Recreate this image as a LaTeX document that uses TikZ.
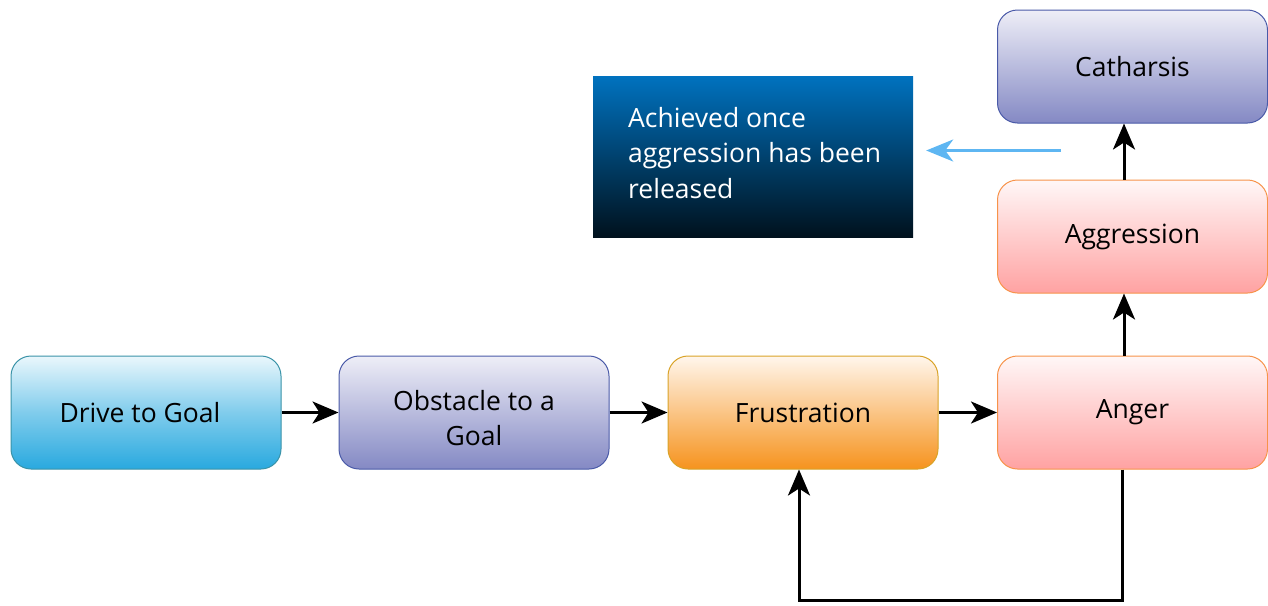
\documentclass[tikz,border=0pt]{standalone}
\usepackage{fontspec}
\setmainfont{Open Sans}
\usetikzlibrary{arrows.meta,positioning}

\definecolor{cyanTop}{HTML}{EAF7FC}
\definecolor{cyanBot}{HTML}{29A9DF}
\definecolor{cyanEdge}{HTML}{3A93A8}
\definecolor{lilacTop}{HTML}{EEEEF7}
\definecolor{lilacBot}{HTML}{8489C4}
\definecolor{lilacEdge}{HTML}{4A5AA8}
\definecolor{amberTop}{HTML}{FFF6EC}
\definecolor{amberBot}{HTML}{F6931E}
\definecolor{amberEdge}{HTML}{D9A328}
\definecolor{roseTop}{HTML}{FFF7F7}
\definecolor{roseBot}{HTML}{FFA2A2}
\definecolor{roseEdge}{HTML}{F7934A}
\definecolor{navyTop}{HTML}{0072BF}
\definecolor{navyBot}{HTML}{00111D}
\definecolor{hintBlue}{HTML}{5EB6F2}

\tikzset{
  x=1pt, y=-1pt,
  stage/.style={draw, line width=1pt, rounded corners=20pt,
    minimum width=270pt, minimum height=113pt, align=center,
    font=\fontsize{26.5}{35}\selectfont, text=black},
  drivebox/.style={stage, draw=cyanEdge, top color=cyanTop, bottom color=cyanBot, middle color=cyanBot!55!cyanTop},
  lilacbox/.style={stage, draw=lilacEdge, top color=lilacTop, bottom color=lilacBot},
  amberbox/.style={stage, draw=amberEdge, top color=amberTop, bottom color=amberBot},
  rosebox/.style={stage, draw=roseEdge, top color=roseTop, bottom color=roseBot},
  notebox/.style={draw=none, top color=navyTop, bottom color=navyBot,
    minimum width=320pt, minimum height=161pt},
  notetext/.style={inner sep=0pt, align=left, text=white,
    font=\fontsize{26.5}{35.5}\selectfont},
  flow/.style={line width=3pt, -{Stealth[length=26pt, width=22pt, inset=7pt]}},
  hint/.style={line width=2.5pt, color=hintBlue, -{Stealth[length=27pt, width=22pt, inset=8pt]}}
}

\begin{document}
\begin{tikzpicture}
\useasboundingbox (0,0) rectangle (1268,605);

% stage boxes
\node[drivebox] (drive) at (146,412.5) {\hspace*{-12pt}Drive to Goal};
\node[lilacbox] (obstacle) at (474,412.5) {\rule{0pt}{31pt}Obstacle to a\\Goal};
\node[amberbox] (frus) at (803,412.5) {Frustration};
\node[rosebox] (anger) at (1132.5,412.5) {Anger};
\node[rosebox] (aggr) at (1132.5,236.5) {Aggression};
\node[lilacbox] (cath) at (1132.5,66.5) {Catharsis};

% explanatory note: shaded panel with its text
\node[notebox] (note) at (753,156.5) {};
\node[notetext, anchor=base west] (notetext) at (628,198) {Achieved once\\aggression has been\\released};

% main chain
\draw[flow] (drive.east) -- (obstacle.west);
\draw[flow] (obstacle.east) -- (frus.west);
\draw[flow] (frus.east) -- (anger.west);
\draw[flow] ([xshift=-8.5pt]anger.north) -- ([xshift=-8.5pt]aggr.south);
\draw[flow] ([xshift=-8.5pt]aggr.north) -- ([xshift=-8.5pt]cath.south);

% feedback loop from anger back to frustration
\coordinate (loopright) at (1122,600);
\draw[flow] ([xshift=-10.5pt]anger.south) -- (loopright) -| ([xshift=-4pt]frus.south);

% pointer to the note
\coordinate (hintstart) at (1061,150.5);
\draw[hint, shorten >=13pt] (hintstart) -- (hintstart -| note.east);
\end{tikzpicture}
\end{document}
